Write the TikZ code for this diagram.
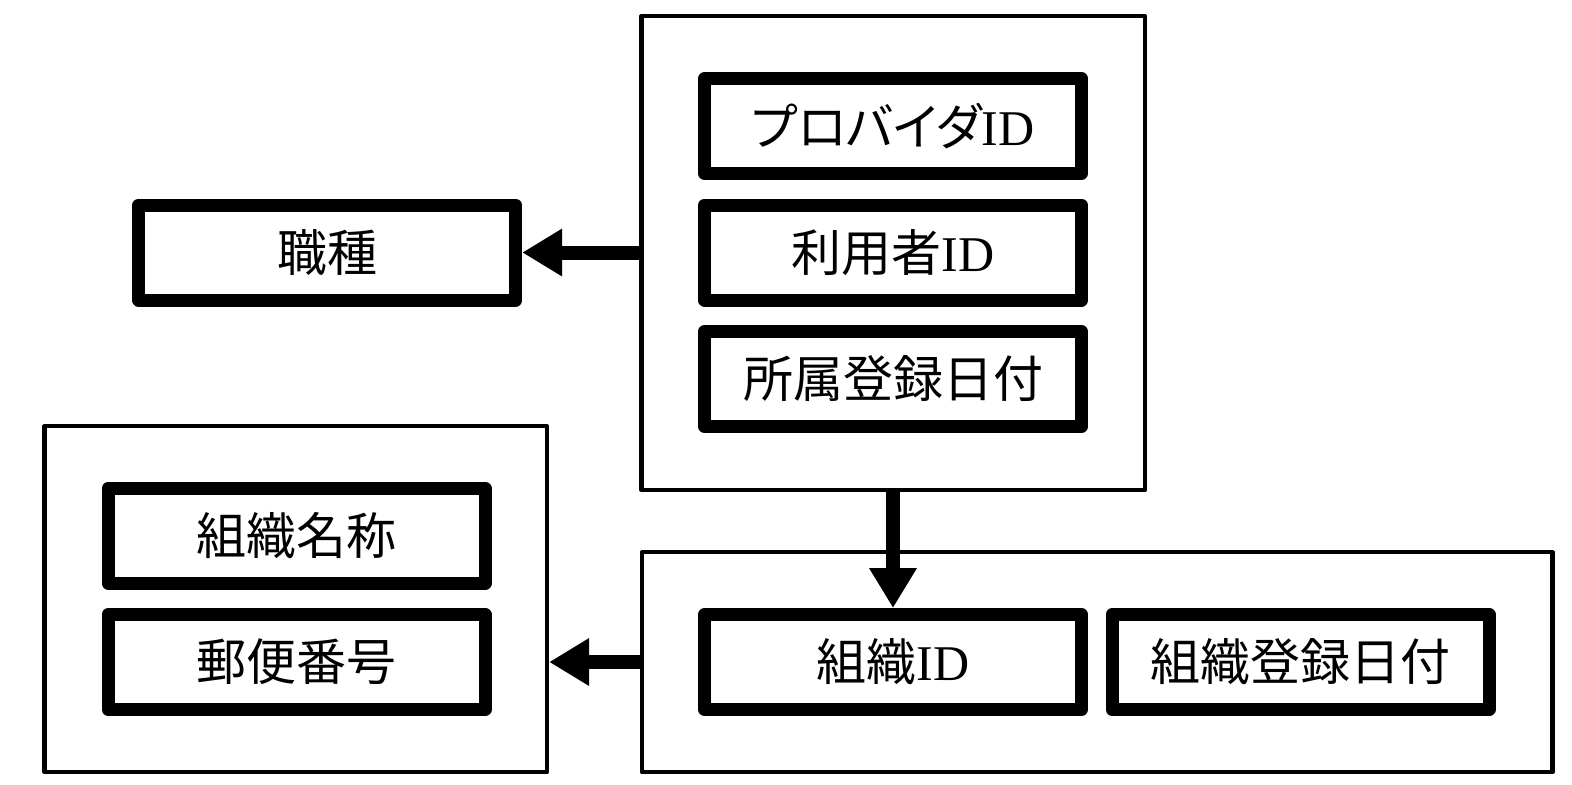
\documentclass[tikz,border=0pt]{standalone}
\usepackage{fontspec}
\setmainfont{Liberation Serif}
\newfontfamily\jp{Noto Sans CJK JP}
\newfontfamily\jpp{Noto Sans CJK JP}[RawFeature=+palt]
\usetikzlibrary{arrows.meta}
\tikzset{
  field/.style={draw, line width=6.5pt, line join=round, minimum width=188.5pt, minimum height=47.5pt, inner sep=0pt, font=\fontsize{25pt}{30pt}\selectfont},
  group/.style={draw, line width=2.15pt, line join=round, inner sep=0pt},
  arr/.style={line width=7pt, -{Triangle[length=20pt,width=22.5pt]}},
}
\begin{document}
\begin{tikzpicture}[x=0.5pt,y=-0.5pt]
\useasboundingbox (0,0) rectangle (1572,784);
% group boxes
\node[group, minimum width=251.75pt, minimum height=237pt] (top) at (893.25,253) {};
\node[group, minimum width=251.25pt, minimum height=173pt] (left) at (295.75,599.3) {};
\node[group, minimum width=455.25pt, minimum height=110pt] (right) at (1097.25,662.3) {};
% fields
\node[field] (prov) at (893,126) {{\jpp プロバイダ}ID};
\node[field] (user) at (893,252.5) {{\jp 利用者}ID};
\node[field] (sdate) at (893,379) {\jp 所属登録日付};
\node[field] (shoku) at (327.2,252.5) {\jp 職種};
\node[field] (oname) at (296.5,535.7) {\jp 組織名称};
\node[field] (zip) at (296.5,662) {\jp 郵便番号};
\node[field] (oid) at (893,662) {{\jp 組織}ID};
\node[field] (odate) at (1300.5,662) {\jp 組織登録日付};
% arrows
\draw[arr] (top.west |- shoku.east) -- (shoku.east);
\draw[arr, line width=6.75pt] (top.south -| oid.north) -- (oid.north);
\draw[arr] (right.west |- zip.east) -- (left.east |- zip.east);
\end{tikzpicture}
\end{document}
